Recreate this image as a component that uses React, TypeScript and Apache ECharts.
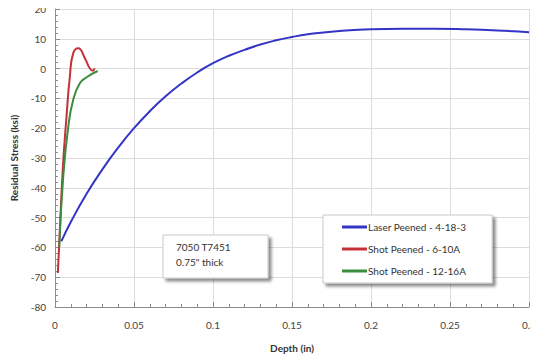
import React, { useEffect, useRef } from "react";
import * as echarts from "echarts";

const laserDepth = [0.004, 0.01, 0.02, 0.03, 0.04, 0.05, 0.06, 0.07, 0.08, 0.09, 0.1, 0.11, 0.12, 0.13, 0.14, 0.15, 0.16, 0.17, 0.18, 0.2, 0.22, 0.24, 0.26, 0.28, 0.3];
const laserStress = [-58, -51.5, -42, -33.8, -26.5, -20, -14.3, -9.3, -5, -1.3, 1.8, 4.3, 6.3, 8.1, 9.5, 10.6, 11.5, 12.1, 12.6, 13.2, 13.4, 13.4, 13.2, 12.8, 12.2];

const shot610Depth = [0.0018, 0.003, 0.005, 0.0073, 0.0094, 0.0115, 0.0147, 0.019, 0.022, 0.024, 0.025];
const shot610Stress = [-68.6, -55, -33, -16, -2.7, 5.1, 6.8, 3.4, 0.1, -0.7, 0.1];

const shot1216Depth = [0.0027, 0.0052, 0.0084, 0.0115, 0.0157, 0.02, 0.027];
const shot1216Stress = [-59.8, -36.3, -19.5, -10.5, -4.9, -2.9, -0.8];

const seriesNames = ["Laser Peened - 4-18-3", "Shot Peened - 6-10A", "Shot Peened - 12-16A"];
const seriesColors = ["#3434c6", "#c4303a", "#3c8c3e"];

const noteLines = ["7050 T7451", "0.75\" thick"];

const zip = (xs: number[], ys: number[]) => xs.map((x, i) => [x, ys[i]]);

export default function App() {
  const ref = useRef<HTMLDivElement>(null);
  useEffect(() => {
    if (!ref.current) return;
    const chart = echarts.init(ref.current, undefined, { renderer: "svg" });
    const font = "Lato, 'Open Sans', sans-serif";
    const datasets = [zip(laserDepth, laserStress), zip(shot610Depth, shot610Stress), zip(shot1216Depth, shot1216Stress)];
    chart.setOption({
      animation: false,
      textStyle: { fontFamily: font },
      grid: { left: 55, right: 7, top: 9, bottom: 53 },
      xAxis: {
        type: "value",
        min: 0,
        max: 0.3,
        interval: 0.05,
        name: "Depth (in)",
        nameLocation: "middle",
        nameGap: 36,
        nameTextStyle: { fontSize: 10, fontWeight: "bold", color: "#333", fontFamily: font },
        axisLine: { show: true, onZero: false, lineStyle: { color: "#8c8c8c" } },
        axisTick: { show: true, inside: true, length: 5, lineStyle: { color: "#8c8c8c" } },
        minorTick: { show: true, splitNumber: 5, length: 3, lineStyle: { color: "#8c8c8c" } },
        axisLabel: { fontSize: 10, color: "#444", margin: 13, fontFamily: font },
        splitLine: { show: true, lineStyle: { color: "#dcdcdc" } },
      },
      yAxis: {
        type: "value",
        min: -80,
        max: 20,
        interval: 10,
        name: "Residual Stress (ksi)",
        nameLocation: "middle",
        nameGap: 36,
        nameTextStyle: { fontSize: 10, fontWeight: "bold", color: "#333", fontFamily: font },
        axisLine: { show: true, onZero: false, lineStyle: { color: "#8c8c8c" } },
        axisTick: { show: true, inside: true, length: 5, lineStyle: { color: "#8c8c8c" } },
        minorTick: { show: true, splitNumber: 5, length: 3, lineStyle: { color: "#8c8c8c" } },
        axisLabel: { fontSize: 10, color: "#444", margin: 9, fontFamily: font },
        splitLine: { show: true, lineStyle: { color: "#dcdcdc" } },
      },
      legend: {
        orient: "vertical",
        left: 323,
        top: 215,
        data: seriesNames,
        icon: "rect",
        itemWidth: 25,
        itemHeight: 3,
        itemGap: 12,
        padding: [7, 26, 7, 19],
        backgroundColor: "#ffffff",
        borderColor: "#c8c8c8",
        borderWidth: 1,
        shadowColor: "rgba(0,0,0,0.45)",
        shadowBlur: 3,
        shadowOffsetX: 3,
        shadowOffsetY: 3,
        textStyle: { fontSize: 10, color: "#333", fontFamily: font, padding: [0, 0, 0, -4] },
        z: 10,
      },
      graphic: [
        {
          type: "rect",
          z: 100,
          shape: { x: 163, y: 235, width: 105, height: 43 },
          style: {
            fill: "#ffffff",
            stroke: "#c8c8c8",
            lineWidth: 1,
            shadowColor: "rgba(0,0,0,0.45)",
            shadowBlur: 3,
            shadowOffsetX: 3,
            shadowOffsetY: 3,
          },
        },
        {
          type: "text",
          z: 101,
          x: 176,
          y: 242,
          style: { text: noteLines[0], fontSize: 10, fill: "#333", fontFamily: font },
        },
        {
          type: "text",
          z: 101,
          x: 176,
          y: 257,
          style: { text: noteLines[1], fontSize: 10, fill: "#333", fontFamily: font },
        },
      ],
      series: seriesNames.map((name, i) => ({
        name,
        type: "line",
        data: datasets[i],
        smooth: true,
        showSymbol: false,
        lineStyle: { color: seriesColors[i], width: 2 },
        itemStyle: { color: seriesColors[i] },
        z: 3,
      })),
    });
    return () => chart.dispose();
  }, []);
  return <div ref={ref} style={{ width: 539, height: 360, marginLeft: -8, marginTop: -8 }} />;
}
